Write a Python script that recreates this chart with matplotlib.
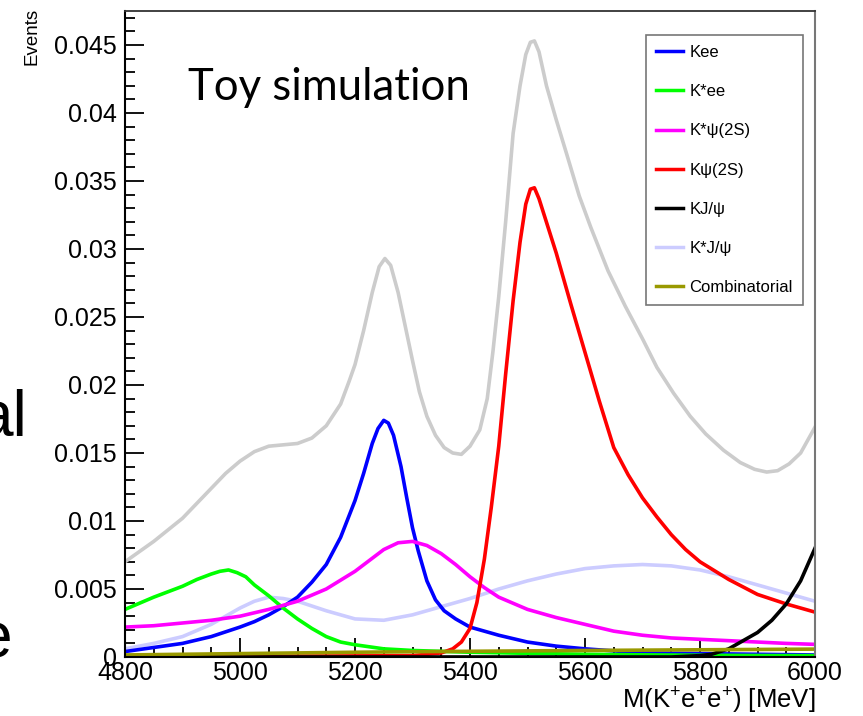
import matplotlib
matplotlib.use("Agg")
import matplotlib.pyplot as plt
from matplotlib.ticker import MultipleLocator, FixedLocator

plt.rcParams['font.family'] = ['Liberation Sans', 'DejaVu Sans']
plt.rcParams['mathtext.fontset'] = 'custom'
plt.rcParams['mathtext.rm'] = 'Liberation Sans'
plt.rcParams['mathtext.it'] = 'Liberation Sans'

# data (MeV, events)
kee_x = [4800, 4850, 4900, 4950, 5000, 5025, 5050, 5075, 5100, 5125, 5150, 5175, 5200, 5215,
         5230, 5240, 5250, 5258, 5267, 5280, 5290, 5300, 5310, 5325, 5340, 5355, 5375, 5400,
         5450, 5500, 5550, 5600, 5700, 5800, 5900, 6000]
kee_y = [0.0004, 0.0007, 0.0010, 0.0015, 0.0022, 0.0026, 0.0031, 0.0037, 0.0044, 0.0055,
         0.0068, 0.0088, 0.0115, 0.0135, 0.0157, 0.0168, 0.0174, 0.0172, 0.0163, 0.0140,
         0.0117, 0.0095, 0.0078, 0.0056, 0.0042, 0.0034, 0.0028, 0.0022, 0.0016, 0.0011,
         0.0008, 0.0006, 0.0003, 0.00025, 0.0002, 0.00015]

kstee_x = [4800, 4850, 4900, 4925, 4950, 4965, 4980, 4995, 5010, 5025, 5050, 5075, 5100, 5125,
           5150, 5175, 5200, 5250, 5300, 5400, 5500, 5600, 5700, 5800, 5900, 6000]
kstee_y = [0.0035, 0.0044, 0.0052, 0.0057, 0.0061, 0.0063, 0.0064, 0.0062, 0.0059, 0.0053,
           0.0045, 0.0036, 0.0028, 0.0021, 0.0015, 0.0011, 0.0009, 0.0006, 0.00048, 0.00035,
           0.00027, 0.0002, 0.00016, 0.00013, 0.00011, 0.0001]

kstpsi2s_x = [4800, 4850, 4900, 4950, 5000, 5050, 5100, 5150, 5200, 5225, 5250, 5275, 5300,
              5325, 5350, 5375, 5400, 5425, 5450, 5500, 5550, 5600, 5650, 5700, 5750, 5800,
              5850, 5900, 5950, 6000]
kstpsi2s_y = [0.0022, 0.0023, 0.0025, 0.0027, 0.0030, 0.0035, 0.0041, 0.0050, 0.0063, 0.0071,
              0.0079, 0.0084, 0.0085, 0.0082, 0.0076, 0.0068, 0.0059, 0.0051, 0.0044, 0.0035,
              0.0029, 0.0024, 0.0019, 0.0016, 0.0014, 0.0013, 0.0012, 0.0011, 0.0010, 0.00093]

kpsi2s_x = [4800, 5000, 5200, 5300, 5350, 5370, 5385, 5400, 5412, 5425, 5437, 5450, 5462,
            5475, 5487, 5497, 5505, 5512, 5520, 5535, 5550, 5575, 5600, 5625, 5650, 5675,
            5700, 5725, 5750, 5775, 5800, 5850, 5900, 5950, 6000]
kpsi2s_y = [0.00005, 0.00005, 0.00008, 0.0001, 0.0003, 0.0006, 0.0011, 0.0021, 0.0040, 0.0072,
            0.0110, 0.0155, 0.0208, 0.0262, 0.0305, 0.0333, 0.0344, 0.0345, 0.0337, 0.0317,
            0.0297, 0.0260, 0.0224, 0.0188, 0.0154, 0.0134, 0.0117, 0.0103, 0.0090, 0.0079,
            0.0070, 0.0057, 0.0046, 0.0039, 0.0033]

kjpsi_x = [4800, 5200, 5600, 5750, 5800, 5820, 5835, 5850, 5875, 5900, 5925, 5950, 5975, 6000]
kjpsi_y = [0.0, 0.0, 0.0, 0.0, 0.0001, 0.0002, 0.0004, 0.0006, 0.0012, 0.0018, 0.0027, 0.0039,
           0.0056, 0.0080]

kstjpsi_x = [4800, 4850, 4900, 4950, 5000, 5025, 5050, 5075, 5100, 5150, 5200, 5250, 5300,
             5350, 5400, 5450, 5500, 5550, 5600, 5650, 5700, 5750, 5800, 5850, 5900, 5950, 6000]
kstjpsi_y = [0.0006, 0.0010, 0.0015, 0.0024, 0.0036, 0.0041, 0.0044, 0.0043, 0.0041, 0.0034,
             0.0028, 0.0027, 0.0031, 0.0037, 0.0043, 0.0050, 0.0056, 0.0061, 0.0065, 0.0067,
             0.0068, 0.0067, 0.0064, 0.0059, 0.0053, 0.0047, 0.0041]

comb_x = [4800, 5000, 5200, 5400, 5600, 5800, 6000]
comb_y = [0.00015, 0.00025, 0.00035, 0.00042, 0.00048, 0.00053, 0.00058]

total_x = [4800, 4850, 4900, 4950, 4975, 5000, 5025, 5050, 5075, 5100, 5125, 5150, 5175, 5190,
           5200, 5215, 5230, 5242, 5252, 5262, 5275, 5290, 5300, 5312, 5325, 5340, 5355, 5370,
           5385, 5400, 5417, 5430, 5440, 5450, 5462, 5475, 5487, 5497, 5505, 5512, 5520, 5533,
           5550, 5568, 5590, 5610, 5640, 5670, 5700, 5725, 5754, 5783, 5810, 5841, 5870, 5895,
           5916, 5935, 5955, 5975, 6000]
total_y = [0.0070, 0.0085, 0.0102, 0.0124, 0.0135, 0.0144, 0.0151, 0.0155, 0.0156, 0.0157,
           0.0161, 0.0170, 0.0186, 0.0203, 0.0215, 0.0240, 0.0268, 0.0287, 0.0293, 0.0288,
           0.0268, 0.0238, 0.0218, 0.0195, 0.0177, 0.0163, 0.0154, 0.0150, 0.0149, 0.0155,
           0.0167, 0.0190, 0.0225, 0.0265, 0.0320, 0.0385, 0.0420, 0.0443, 0.0452, 0.0453,
           0.0445, 0.0420, 0.0395, 0.0370, 0.0339, 0.0316, 0.0284, 0.0258, 0.0234, 0.0213,
           0.0194, 0.0177, 0.0164, 0.0152, 0.0143, 0.0138, 0.0136, 0.0137, 0.0142, 0.0150,
           0.0169]

fig = plt.figure(figsize=(8.63, 7.16), dpi=100)
ax = fig.add_axes([125/863, 59/716, 690/863, 646/716])

lw = 2.6
ax.plot(total_x, total_y, color=(0.8, 0.8, 0.8), lw=lw)
ax.plot(kstjpsi_x, kstjpsi_y, color=(0.8, 0.8, 1.0), lw=lw, label='K*J/\u03c8', zorder=2.1)
ax.plot(kee_x, kee_y, color=(0, 0, 1), lw=lw, label='Kee', zorder=2.2)
ax.plot(kstee_x, kstee_y, color=(0, 1, 0), lw=lw, label='K*ee', zorder=2.2)
ax.plot(kstpsi2s_x, kstpsi2s_y, color=(1, 0, 1), lw=lw, label='K*\u03c8(2S)', zorder=2.2)
ax.plot(kpsi2s_x, kpsi2s_y, color=(1, 0, 0), lw=lw, label='K\u03c8(2S)', zorder=2.2)
ax.plot(kjpsi_x, kjpsi_y, color='black', lw=lw, label='KJ/\u03c8', zorder=2.2)
ax.plot(comb_x, comb_y, color=(0.6, 0.6, 0.0), lw=lw, label='Combinatorial', zorder=2.3)

ax.set_xlim(4800, 6000)
ax.set_ylim(0, 0.0475)

ax.xaxis.set_major_locator(MultipleLocator(200))
ax.xaxis.set_minor_locator(MultipleLocator(50))
yt = [0, 0.005, 0.01, 0.015, 0.02, 0.025, 0.03, 0.035, 0.04, 0.045]
ax.yaxis.set_major_locator(FixedLocator(yt))
ax.set_yticklabels(['0', '0.005', '0.01', '0.015', '0.02', '0.025', '0.03', '0.035', '0.04', '0.045'])
ax.yaxis.set_minor_locator(MultipleLocator(0.001))
ax.tick_params(which='both', direction='in', top=False, right=False, labelsize=18, width=1.3)
ax.tick_params(which='major', length=14)
ax.tick_params(which='minor', length=7)
ax.tick_params(axis='y', pad=6)
ax.tick_params(axis='x', pad=3)

for s in ['left', 'bottom']:
    ax.spines[s].set_linewidth(1.5)
ax.spines['top'].set_linewidth(1.3)
ax.spines['top'].set_color('#333333')
ax.spines['right'].set_linewidth(1.5)
ax.spines['right'].set_color('#777777')

fig.text(32/863, 1 - 8/716, 'Events', rotation=90, ha='center', va='top', fontsize=13.5)
fig.text(815/863, 1 - 701/716, r'M(K$^{+}$e$^{+}$e$^{+}$) [MeV]', ha='right', va='center',
         fontsize=18.5)

ax.text(188/863, 1 - 88/716, 'Toy simulation', transform=fig.transFigure, fontsize=31.5,
        family=['Lato', 'DejaVu Sans'], ha='left', va='center')

# cut-off slide text on the left edge
fig.text(27/863, 1 - 418/716, 'al', fontsize=46, ha='right', va='center')
fig.text(12/863, 1 - 640/716, 'e', fontsize=46, ha='right', va='center')

handles, labels = ax.get_legend_handles_labels()
order = ['Kee', 'K*ee', 'K*\u03c8(2S)', 'K\u03c8(2S)', 'KJ/\u03c8', 'K*J/\u03c8', 'Combinatorial']
hl = dict(zip(labels, handles))
leg = fig.legend([hl[k] for k in order], order, loc='upper left',
                 bbox_to_anchor=(646/863, 1 - 35/716), fontsize=12, frameon=True,
                 fancybox=False, edgecolor='#555555', handlelength=1.6, handletextpad=0.4,
                 labelspacing=1.45, borderpad=0.6, borderaxespad=0)
leg.get_frame().set_linewidth(1.2)
for l in leg.get_lines():
    l.set_linewidth(2.5)

fig.savefig('out.png', dpi=100)
